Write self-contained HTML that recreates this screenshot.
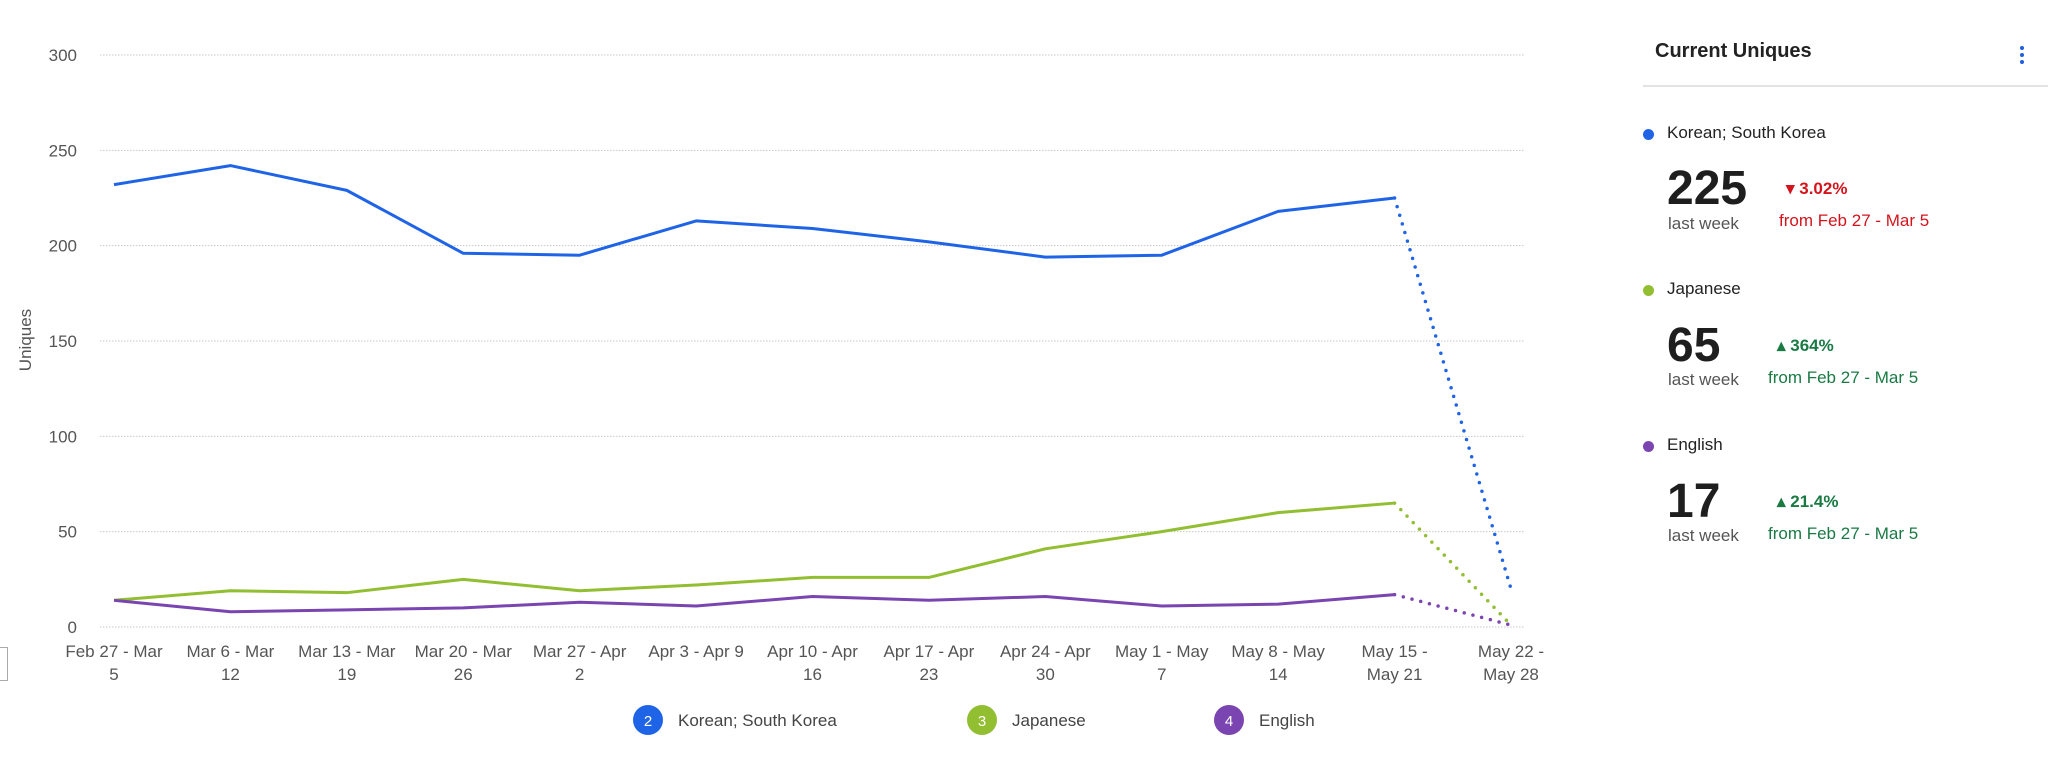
<!DOCTYPE html>
<html><head><meta charset="utf-8"><style>
body{margin:0;width:2048px;height:757px;background:#fff;font-family:"Liberation Sans",sans-serif;overflow:hidden;position:relative}
.t{position:absolute;white-space:nowrap}
</style></head><body>
<svg id="chart" width="1560" height="757" style="position:absolute;left:0;top:0" font-family="Liberation Sans, sans-serif"></svg>
<div class="t" style="left:-2px;top:647px;width:8px;height:32px;border:1px solid #aaa"></div>

<div class="t" style="left:1655px;top:40px;font-size:20px;font-weight:bold;color:#222">Current Uniques</div>
<div class="t" style="left:2017px;top:44px;width:10px;height:22px;color:#1f5fe0">
<div style="position:absolute;left:3px;top:2px;width:4px;height:4px;border-radius:2px;background:#1f5fe0"></div>
<div style="position:absolute;left:3px;top:9px;width:4px;height:4px;border-radius:2px;background:#1f5fe0"></div>
<div style="position:absolute;left:3px;top:16px;width:4px;height:4px;border-radius:2px;background:#1f5fe0"></div></div>
<div class="t" style="left:1643px;top:85px;width:405px;height:2px;background:#e3e3e3"></div>

<div>
<div class="t" style="left:1643px;top:129px;width:11px;height:11px;border-radius:6px;background:#1f64e6"></div>
<div class="t" style="left:1667px;top:123px;font-size:17px;color:#222">Korean; South Korea</div>
<div class="t" style="left:1667px;top:163px;font-size:48px;font-weight:bold;color:#1e1e1e;line-height:52px">225</div>
<div class="t" style="left:1668px;top:214px;font-size:17px;color:#555">last week</div>
<div class="t" style="left:1786px;top:179px;font-size:17px;font-weight:bold;color:#d4141c">&#9662; 3.02%</div>
<div class="t" style="left:1779px;top:211px;font-size:17px;color:#d4141c">from Feb 27 - Mar 5</div>
</div>
<div>
<div class="t" style="left:1643px;top:285px;width:11px;height:11px;border-radius:6px;background:#92be32"></div>
<div class="t" style="left:1667px;top:279px;font-size:17px;color:#222">Japanese</div>
<div class="t" style="left:1667px;top:320px;font-size:48px;font-weight:bold;color:#1e1e1e;line-height:52px">65</div>
<div class="t" style="left:1668px;top:370px;font-size:17px;color:#555">last week</div>
<div class="t" style="left:1777px;top:336px;font-size:17px;font-weight:bold;color:#1a7a44">&#9652; 364%</div>
<div class="t" style="left:1768px;top:368px;font-size:17px;color:#1a7a44">from Feb 27 - Mar 5</div>
</div>
<div>
<div class="t" style="left:1643px;top:441px;width:11px;height:11px;border-radius:6px;background:#7a45b0"></div>
<div class="t" style="left:1667px;top:435px;font-size:17px;color:#222">English</div>
<div class="t" style="left:1667px;top:476px;font-size:48px;font-weight:bold;color:#1e1e1e;line-height:52px">17</div>
<div class="t" style="left:1668px;top:526px;font-size:17px;color:#555">last week</div>
<div class="t" style="left:1777px;top:492px;font-size:17px;font-weight:bold;color:#1a7a44">&#9652; 21.4%</div>
<div class="t" style="left:1768px;top:524px;font-size:17px;color:#1a7a44">from Feb 27 - Mar 5</div>
</div>

<script>
const categories=[["Feb 27 - Mar","5"],["Mar 6 - Mar","12"],["Mar 13 - Mar","19"],["Mar 20 - Mar","26"],["Mar 27 - Apr","2"],["Apr 3 - Apr 9",""],["Apr 10 - Apr","16"],["Apr 17 - Apr","23"],["Apr 24 - Apr","30"],["May 1 - May","7"],["May 8 - May","14"],["May 15 -","May 21"],["May 22 -","May 28"]];
const korean=[232,242,229,196,195,213,209,202,194,195,218,225,20];
const japanese=[14,19,18,25,19,22,26,26,41,50,60,65,1];
const english=[14,8,9,10,13,11,16,14,16,11,12,17,1];
const yTicks=[0,50,100,150,200,250,300];
const seriesNames=["Korean; South Korea","Japanese","English"];
const NS="http://www.w3.org/2000/svg";
const svg=document.getElementById('chart');
const x0=114,x1=1511,y0=627,y1=55,yMax=300;
function xs(i){return x0+(x1-x0)*i/(categories.length-1);}
function ys(v){return y0-(y0-y1)*v/yMax;}
function mk(tag,attrs){const e=document.createElementNS(NS,tag);for(const k in attrs)e.setAttribute(k,attrs[k]);svg.appendChild(e);return e;}
yTicks.forEach(v=>{
 const l=mk('line',{x1:100,x2:1525,y1:ys(v),y2:ys(v),stroke:'#c8c8c8','stroke-dasharray':'1.5 1.5','stroke-width':1});
 
 
 const t=mk('text',{x:77,y:ys(v)+6,'text-anchor':'end','font-size':17,fill:'#555'});t.textContent=v;
 
 
});
const yt=mk('text',{transform:'translate(31,340) rotate(-90)','text-anchor':'middle','font-size':17,fill:'#555'});yt.textContent='Uniques';


categories.forEach((c,i)=>{
 c.forEach((s,j)=>{const t=mk('text',{x:xs(i),y:657+j*23,'text-anchor':'middle','font-size':17,fill:'#555'});t.textContent=s;
 
 });
});
function draw(vals,color,name){
 const n=vals.length;
 const pts=vals.slice(0,n-1).map((v,i)=>xs(i)+','+ys(v)).join(' ');
 const p=mk('polyline',{points:pts,fill:'none',stroke:color,'stroke-width':3,'stroke-linejoin':'round'});
 
 
 const d=mk('line',{x1:xs(n-2),y1:ys(vals[n-2]),x2:xs(n-1),y2:ys(vals[n-1]),stroke:color,'stroke-width':3.5,'stroke-dasharray':'0 9','stroke-linecap':'round'});
 
 
}
draw(japanese,'#92be32','japanese');
draw(english,'#7a45b0','english');
draw(korean,'#1f64e6','korean');
const lx=[648,982,1229],cols=['#1f64e6','#92be32','#7a45b0'];
seriesNames.forEach((s,i)=>{
 const g=mk('g',{});
 
 
 const c=document.createElementNS(NS,'circle');c.setAttribute('cx',lx[i]);c.setAttribute('cy',720);c.setAttribute('r',15);c.setAttribute('fill',cols[i]);g.appendChild(c);
 const n=document.createElementNS(NS,'text');n.setAttribute('x',lx[i]);n.setAttribute('y',726);n.setAttribute('text-anchor','middle');n.setAttribute('font-size',15);n.setAttribute('fill','#fff');n.textContent=i+2;g.appendChild(n);
 const t=document.createElementNS(NS,'text');t.setAttribute('x',lx[i]+30);t.setAttribute('y',726);t.setAttribute('font-size',17);t.setAttribute('fill','#444');t.textContent=s;g.appendChild(t);
});
</script>
</body></html>
